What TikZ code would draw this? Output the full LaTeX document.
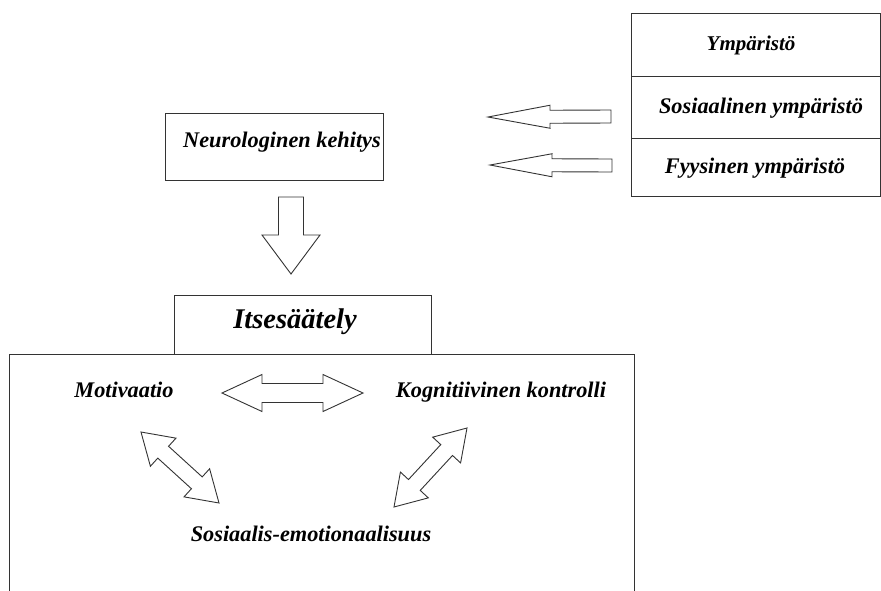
\documentclass[tikz,border=0pt]{standalone}
\usepackage{fontspec}
\setmainfont{Liberation Serif}
\usetikzlibrary{calc}
\tikzset{
  boxline/.style={draw=black!80, line width=1pt, inner sep=0pt, anchor=north west},
  lbl/.style={font=\fontsize{22.3}{26}\selectfont\bfseries\itshape, inner sep=0pt},
  smlbl/.style={font=\fontsize{21}{25}\selectfont\bfseries\itshape, inner sep=0pt},
  biglbl/.style={font=\fontsize{28.5}{33}\selectfont\bfseries\itshape, inner sep=0pt},
  blockarrow/.style={draw=black!80, line width=0.9pt, fill=white, line join=miter},
}
% double block arrow: from, to, head length, head half width, shaft half width
\newcommand\blkdouble[5]{%
  \draw[blockarrow] (#1)
    -- ($(#1)!#3!(#2)!#4!90:(#2)$)
    -- ($(#1)!#3!(#2)!#5!90:(#2)$)
    -- ($(#2)!#3!(#1)!#5!-90:(#1)$)
    -- ($(#2)!#3!(#1)!#4!-90:(#1)$)
    -- (#2)
    -- ($(#2)!#3!(#1)!#4!90:(#1)$)
    -- ($(#2)!#3!(#1)!#5!90:(#1)$)
    -- ($(#1)!#3!(#2)!#5!-90:(#2)$)
    -- ($(#1)!#3!(#2)!#4!-90:(#2)$)
    -- cycle;}
% single block arrow: tail, tip, head length, head half width, shaft half width
\newcommand\blksingle[5]{%
  \draw[blockarrow] ($(#1)!#5!90:(#2)$)
    -- ($(#2)!#3!(#1)!#5!-90:(#1)$)
    -- ($(#2)!#3!(#1)!#4!-90:(#1)$)
    -- (#2)
    -- ($(#2)!#3!(#1)!#4!90:(#1)$)
    -- ($(#2)!#3!(#1)!#5!90:(#1)$)
    -- ($(#1)!#5!-90:(#2)$)
    -- cycle;}
\begin{document}
\begin{tikzpicture}[x=1pt,y=-1pt]
\useasboundingbox (0,0) rectangle (881,590);
\fill[white] (0,0) rectangle (881,590);

% environment box
\node[boxline, minimum width=249pt, minimum height=63pt] (env1) at (631,13) {};
\node[boxline, minimum width=249pt, minimum height=62pt] (env2) at (631,76) {};
\node[boxline, minimum width=249pt, minimum height=58pt] (env3) at (631,138) {};
\node[smlbl] (envt1) at (751,45) {Ympäristö};
\node[lbl] (envt2) at (761,108) {Sosiaalinen ympäristö};
\node[lbl] (envt3) at (755,168) {Fyysinen ympäristö};

% neurological development
\node[boxline, minimum width=218pt, minimum height=67pt] (neuro) at (165,113) {};
\node[lbl] (neurot) at (282,142) {Neurologinen kehitys};

% arrows from environment
\coordinate (a1tail) at (611,116.5);
\coordinate (a1tip) at (488,117);
\coordinate (a2tail) at (612,165.5);
\coordinate (a2tip) at (490,165);
\blksingle{a1tail}{a1tip}{62pt}{11.5pt}{6.5pt}
\blksingle{a2tail}{a2tip}{62pt}{11.5pt}{6.5pt}

% down arrow
\coordinate (dtail) at (291,197);
\coordinate (dtip) at (291,274);
\blksingle{dtail}{dtip}{39pt}{29pt}{12.5pt}

% self-regulation
\node[boxline, minimum width=257pt, minimum height=59pt] (itse) at (174,295) {};
\node[biglbl] (itset) at (295,322) {Itsesäätely};

% outer box (bottom cut off)
\coordinate (ob1) at (9,600);
\coordinate (ob2) at (9,354);
\coordinate (ob3) at (634,354);
\coordinate (ob4) at (634,600);
\draw[draw=black!80, line width=1pt] (ob1) -- (ob2) -- (ob3) -- (ob4);

% components
\node[lbl] (mot) at (124,390) {Motivaatio};
\node[lbl] (kog) at (501,392) {Kognitiivinen kontrolli};
\node[lbl] (sos) at (311,534) {Sosiaalis-emotionaalisuus};

% double arrows
\coordinate (h1) at (222,393);
\coordinate (h2) at (363,393);
\blkdouble{h1}{h2}{40pt}{18.5pt}{9.5pt}
\coordinate (l1) at (141,432);
\coordinate (l2) at (219,503);
\blkdouble{l1}{l2}{30pt}{19pt}{8pt}
\coordinate (r1) at (467,428);
\coordinate (r2) at (394,507);
\blkdouble{r1}{r2}{30pt}{19pt}{8pt}
\end{tikzpicture}
\end{document}
